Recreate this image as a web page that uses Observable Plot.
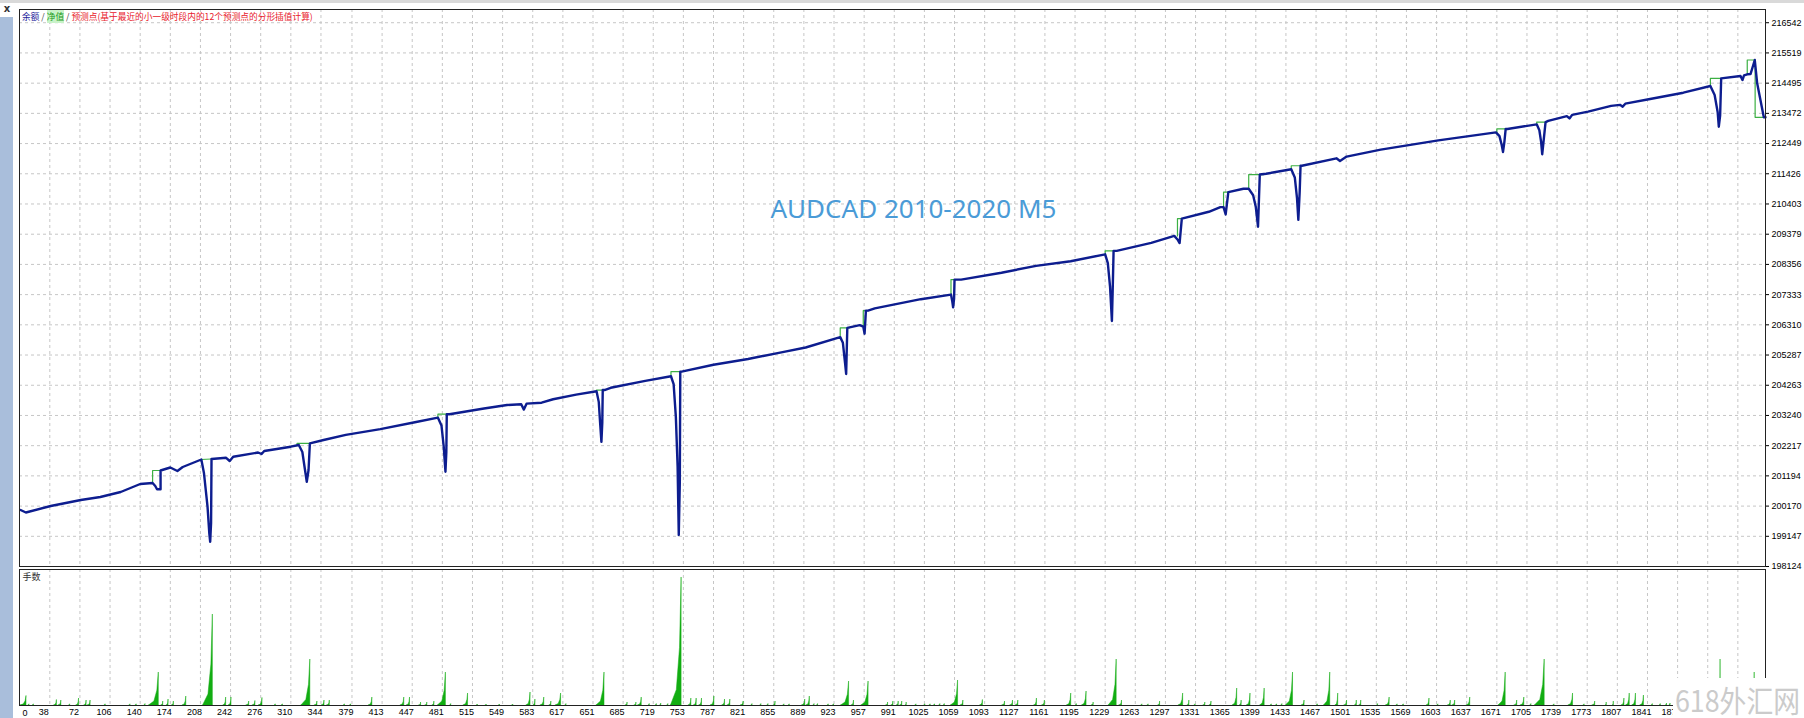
<!DOCTYPE html>
<html><head><meta charset="utf-8">
<script src="https://cdn.jsdelivr.net/npm/d3@7"></script>
<script src="https://cdn.jsdelivr.net/npm/@observablehq/plot@0.6"></script>
<style>
html,body{margin:0;padding:0;background:#fff;}
#root{position:relative;width:1804px;height:718px;overflow:hidden;background:#fff;font-family:"Liberation Sans",sans-serif;}
.abs{position:absolute;}
#legend{left:22px;top:11px;font-family:"Noto Sans CJK SC",sans-serif;font-size:8.7px;line-height:12px;white-space:nowrap;}
</style></head><body><div id="root"></div>
<script>
// ---------- data ----------
const priceTicks = [198124,199147,200170,201194,202217,203240,204263,205287,206310,207333,208356,209379,210403,211426,212449,213472,214495,215519,216542];
const tradeLabels = [38,72,106,140,174,208,242,276,310,344,379,413,447,481,515,549,583,617,651,685,719,753,787,821,855,889,923,957,991,1025,1059,1093,1127,1161,1195,1229,1263,1297,1331,1365,1399,1433,1467,1501,1535,1569,1603,1637,1671,1705,1739,1773,1807,1841,1875];
const gridTrades = [38,72,106,140,174,208,242,276,310,344,379,413,447,481,515,549,583,617,651,685,719,753,787,821,855,889,923,957,991,1025,1059,1093,1127,1161,1195,1229,1263,1297,1331,1365,1399,1433,1467,1501,1535,1569,1603,1637,1671,1705,1739,1773,1807,1841,1875,1909,1943];

const balanceTrade = [5,11,39,73,95,118,140,154,157,159,163,163,174,182,188,209,212,216,218,219,220,220.5,237,241,245,273,277,280,310,319,323,326,328,330,331.5,347,372,411,450,476,480,482.5,484.5,485.5,486,489,528,554,570,573,576,593,606,632,655,657.5,659,660.5,661.5,662,664,671,710,739,742,744.5,746.5,747.8,749,749.5,751,787,826,865,891,930,933,935.5,936.7,938,952,956,957.5,959,961.4,969,1021,1055,1056.5,1057.4,1058.5,1059,1066.5,1112,1151,1190,1229,1232,1234.5,1236.6,1237.5,1238.5,1242,1281,1307,1310.6,1313,1315.5,1346,1359,1362.6,1365,1368,1385,1391,1396,1399,1401.5,1403.5,1410.6,1439,1443,1445.5,1447,1448.5,1449.5,1451,1490,1494,1501.5,1540,1605,1670,1674,1676.5,1678,1679.5,1681,1683,1716,1719,1721,1722.2,1724,1726,1729,1750,1753,1756,1774,1800,1810,1813,1816,1844,1881.5,1912,1916.8,1920.2,1921.5,1923,1924.2,1946,1948.2,1950,1953.6,1957.3,1962.1,1964.8,1972.3,1974.2];
const balanceValue = [200038,199953,200173,200376,200478,200647,200918,200952,200850,200739,200739,201376,201477,201359,201494,201748,201281,200149,199248,198960,199597,201765,201806,201697,201843,201985,201934,202036,202182,202239,202002,201392,200996,201392,202297,202409,202581,202776,203010,203165,202900,202200,201334,202000,203282,203282,203477,203594,203620,203438,203640,203672,203789,203945,204061,203700,203000,202347,203000,204100,204100,204178,204412,204568,204300,203200,201500,199191,201000,204724,204724,204958,205152,205386,205542,205893,205700,205000,204646,206204,206300,206250,206010,206789,206789,206867,207178,207334,207100,206900,207200,207841,207841,208074,208308,208464,208698,208400,207600,206438,207500,208815,208815,209087,209321,209200,209080,209905,210139,210295,210295,210050,210802,210918,210918,210700,210300,209633,211400,211425,211581,211300,210600,209866,210800,211698,211698,211950,211860,212009,212243,212555,212827,212700,212400,212165,212500,212944,212944,213100,212900,212500,212087,212600,213178,213217,213380,213300,213420,213529,213724,213760,213700,213800,213958,214172,214398,214094,213518,213020,213400,214659,214737,214602,214760,214795,214800,215279,214490,213338,213338];

const equityTrade = [154,154,163, 208.6,220.5, 317,317,331.5, 476,476,488.7, 655,655,664, 739,739,751, 930,930,940, 956,956,961.4, 1055,1055,1060, 1229,1229,1242, 1310.6,1310.6,1316, 1362.6,1362.6,1369, 1391,1391,1408, 1439,1439,1451, 1671,1671,1682, 1716,1716,1727.4, 1912,1912,1924.2, 1953.6,1953.6,1962.5,1962.5,1974.2];
const equityValue = [200952,201376,201376, 201748,201765, 202239,202297,202297, 203165,203282,203282, 204061,204100,204100, 204568,204724,204724, 205893,206204,206204, 206250,206789,206789, 207334,207841,207841, 208698,208815,208815, 209321,209905,209905, 210295,210802,210802, 210918,211400,211400, 211581,211698,211698, 212827,212944,212944, 213100,213178,213178, 214398,214659,214659, 214795,215279,215279,213338,213338];
const equitySeg = [1,1,1, 2,2, 3,3,3, 4,4,4, 5,5,5, 6,6,6, 7,7,7, 8,8,8, 9,9,9, 10,10,10, 11,11,11, 12,12,12, 13,13,13, 14,14,14, 15,15,15, 16,16,16, 17,17,17, 18,18,18,18,18];

const spikeStart = [5,14,19,43,48,60,68,77,81,100,128,135,145,150,164,170,176,188,211,234,240,260,267,274,292,300,322,337,345,351,370,377,398,434,441,455,462,470,476,490,505,520,530,545,560,576,584,592,602,609,620,655,688,698,702,714,722,727,735,739,759,765,771,784,797,803,818,830,840,848,855,866,872,887,892,900,904,916,922,931,943,954,982,988,994,998,1004,1015,1025,1031,1036,1042,1047,1055,1066,1088,1113,1122,1128,1149,1158,1186,1196,1203,1214,1233,1245,1270,1277,1289,1312,1322,1330,1340,1347,1373,1381,1389,1404,1416,1422,1428,1433,1451,1468,1476,1489,1499,1511,1516,1536,1546,1558,1565,1592,1604,1616,1621,1637,1673,1691,1698,1709,1714,1735,1752,1769,1779,1794,1802,1812,1817,1824,1833,1846,1855,1862,1866,1922.5,1961.2];
const spikePeak = [11.7,15,20,46,51,61,71,79.5,84,101,129,136,146,161,166,172,178,192,222,237,243,263,270,278,293,301,332,340,348,354,371,378,402,438,444.5,457,464,472,485,491,510,521,531,546,561,580.5,586,596,604,615,621,664,690,700,706,715,723,728,736,751,762,768,774,788,800,806,821,831,841,849,857,867,873,890.5,895.7,901,905,917,923,940,945.5,962,984,990,996,1000,1005,1016,1026,1032,1037,1043,1048,1063,1069,1091,1116,1125,1131,1152,1161,1190.7,1197,1208,1216,1242,1248,1271,1278,1291,1317,1324,1331,1342,1349,1378,1383,1393,1409,1417,1423,1429,1441,1454,1469,1483,1492,1502,1513,1518,1537,1550,1559,1566,1595,1605,1619,1624,1641,1681,1694,1702,1710,1725,1736,1757,1770,1782,1795,1803,1815,1821,1828,1837,1847,1856,1863,1867,1923.5,1962];
const spikeLots = [0.095,0.012,0.012,0.055,0.05,0.012,0.07,0.05,0.05,0.012,0.012,0.012,0.015,0.33,0.04,0.06,0.04,0.09,0.91,0.08,0.08,0.04,0.045,0.075,0.012,0.012,0.46,0.04,0.05,0.05,0.012,0.012,0.08,0.08,0.08,0.03,0.03,0.04,0.33,0.015,0.12,0.01,0.01,0.01,0.01,0.13,0.06,0.08,0.04,0.12,0.015,0.33,0.03,0.03,0.08,0.015,0.015,0.02,0.015,1.28,0.07,0.07,0.07,0.09,0.06,0.06,0.04,0.015,0.015,0.015,0.04,0.012,0.012,0.06,0.09,0.015,0.015,0.012,0.012,0.24,0.05,0.24,0.03,0.04,0.04,0.04,0.03,0.012,0.012,0.012,0.012,0.015,0.015,0.25,0.05,0.055,0.04,0.05,0.05,0.07,0.05,0.12,0.015,0.14,0.03,0.46,0.05,0.012,0.012,0.04,0.12,0.05,0.012,0.03,0.04,0.17,0.05,0.12,0.17,0.012,0.012,0.015,0.33,0.05,0.012,0.33,0.12,0.05,0.05,0.05,0.015,0.08,0.012,0.012,0.07,0.012,0.05,0.05,0.08,0.33,0.05,0.08,0.015,0.46,0.012,0.12,0.012,0.04,0.03,0.04,0.07,0.12,0.12,0.1,0.015,0.015,0.02,0.02,0.46,0.33];

const titleText = "AUDCAD 2010-2020 M5";
const lowerLabel = "手数";
const watermarkText = "618外汇网";

// ---------- tables ----------
const balRows = balanceTrade.map((t, i) => ({t, v: balanceValue[i]}));
const eqRows = equityTrade.map((t, i) => ({t, v: equityValue[i], s: equitySeg[i]}));
const spikeRows = [];
spikeStart.forEach((s, i) => {
  const p = spikePeak[i], h = spikeLots[i], w = p - s;
  spikeRows.push({t: s, v: 0, s: i}, {t: s + w * 0.55, v: h * 0.12, s: i},
                 {t: s + w * 0.85, v: h * 0.45, s: i}, {t: p, v: h, s: i}, {t: p, v: 0, s: i});
});

const xDomain = [3.8, 1974.2];
const gridStyle = {stroke: "#c6c6c6", strokeOpacity: 1, strokeDasharray: "3,3"};
const baseStyle = {background: "transparent", fontFamily: "Liberation Sans", fontSize: "9px", color: "#000", overflow: "visible"};

const root = document.getElementById("root");

// ---------- chrome ----------
function box(css) { const d = document.createElement("div"); d.className = "abs"; Object.assign(d.style, css); root.appendChild(d); return d; }
box({left: "0px", top: "0px", width: "1804px", height: "3px", background: "#d9d9d9"});
box({left: "0px", top: "17px", width: "13px", height: "701px", background: "#a9bedb"});
const xg = box({left: "2px", top: "3px", width: "10px", height: "12px", font: "bold 10px 'DejaVu Sans'", color: "#333", lineHeight: "12px", textAlign: "center"});
xg.textContent = "x";

// ---------- upper panel ----------
const upper = Plot.plot({
  width: 1804, height: 575,
  marginLeft: 19, marginRight: 39, marginTop: 9, marginBottom: 9,
  style: baseStyle,
  x: {domain: xDomain, axis: null},
  y: {domain: [198124, 216990], axis: "right", ticks: priceTicks, tickFormat: "d", tickSize: 3, tickPadding: 3, label: null},
  marks: [
    Plot.gridX(gridTrades, gridStyle),
    Plot.gridY(priceTicks.slice(1), gridStyle),
    Plot.line(eqRows, {x: "t", y: "v", z: "s", stroke: "#3cb043", strokeWidth: 1.2}),
    Plot.line(balRows, {x: "t", y: "v", stroke: "#0d1d8f", strokeWidth: 2.4, strokeLinejoin: "round"}),
    Plot.frame({stroke: "#222"}),
    Plot.text([titleText], {frameAnchor: "top-left", dx: 751, dy: 200, textAnchor: "start", lineAnchor: "middle", fontSize: 26, fill: "#4a9bd7", fontFamily: "Noto Sans"})
  ]
});
upper.classList.add("abs");
upper.style.left = "0px"; upper.style.top = "0px";
root.appendChild(upper);

// ---------- lower panel ----------
const lower = Plot.plot({
  width: 1804, height: 158,
  marginLeft: 19, marginRight: 39, marginTop: 9, marginBottom: 13,
  style: baseStyle,
  x: {domain: xDomain},
  y: {domain: [0, 1.36], axis: null},
  marks: [
    Plot.gridX(gridTrades, gridStyle),
    Plot.areaY(spikeRows, {x: "t", y: "v", z: "s", fill: "#12ad12", stroke: "#12ad12", strokeWidth: 0.5}),
    Plot.frame({stroke: "#222"}),
    Plot.axisX(tradeLabels, {anchor: "bottom", tickSize: 0, tickPadding: 3, dx: -6, tickFormat: "d", label: null, fontSize: 9}),
    Plot.text(["0"], {frameAnchor: "bottom-left", dx: 3, dy: 8, lineAnchor: "middle", fontSize: 9}),
    Plot.text([lowerLabel], {frameAnchor: "top-left", dx: 3, dy: 8, textAnchor: "start", lineAnchor: "middle", fontSize: 9, fill: "#333", fontFamily: "Noto Sans CJK SC"})
  ]
});
lower.classList.add("abs");
lower.style.left = "0px"; lower.style.top = "560px";
root.appendChild(lower);

// ---------- legend ----------
const lg = box({}); lg.id = "legend";
lg.innerHTML = '<span style="color:#1a1a9a">余额</span><span style="color:#444"> / </span>' +
  '<span style="color:#1a9a1a;background:#c8f2c8">净值</span><span style="color:#444"> / </span>' +
  '<span style="color:#e8202a">预测点(基于最近的小一级时段内的12个预测点的分形插值计算)</span>';

// ---------- watermark ----------
const wm = box({left: "1673px", top: "678px", width: "131px", height: "40px", background: "#fff"});
wm.innerHTML = '<svg width="131" height="40" style="display:block;overflow:visible"><text x="2" y="34" textLength="125" lengthAdjust="spacingAndGlyphs" font-family="Noto Sans CJK SC" font-size="30" fill="#cbcbcb">' + watermarkText + '</text></svg>';
</script></body></html>
